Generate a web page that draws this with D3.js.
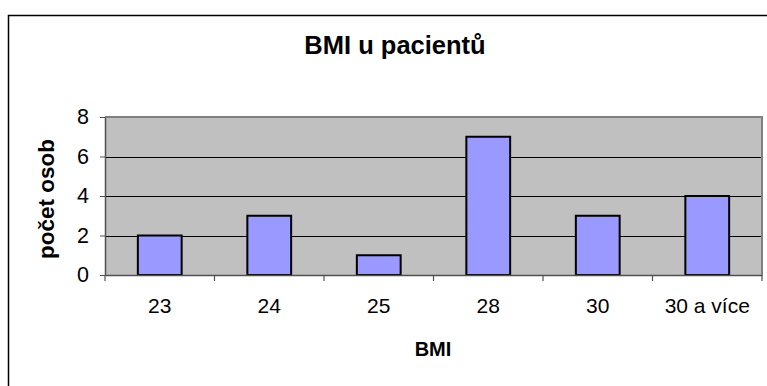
<!DOCTYPE html>
<html>
<head>
<meta charset="utf-8">
<script src="https://cdn.jsdelivr.net/npm/d3@7"></script>
<style>
  html, body { margin: 0; padding: 0; background: #fff; }
  svg { display: block; font-family: Arial, "Liberation Sans", sans-serif; }
</style>
</head>
<body>
<svg id="chart" width="767" height="386"></svg>
<script>
const categories = ["23", "24", "25", "28", "30", "30 a více"];
const counts = [2, 3, 1, 7, 3, 4];
const yTicks = [0, 2, 4, 6, 8];
const chartTitle = "BMI u pacientů";
const xTitle = "BMI";
const yTitle = "počet osob";

const svg = d3.select("#chart");
const plot = { left: 105, right: 762, top: 117, bottom: 275 };

// outer chart border
svg.append("rect")
  .attr("x", 8.5).attr("y", 15.5)
  .attr("width", 800).attr("height", 400)
  .attr("fill", "#fff").attr("stroke", "#000").attr("stroke-width", 1.5);

const x = d3.scaleBand().domain(categories).range([plot.left, plot.right]).paddingInner(0).paddingOuter(0);
const y = d3.scaleLinear().domain([0, 8]).range([plot.bottom, plot.top]);

// plot background
svg.append("rect")
  .attr("x", plot.left).attr("y", plot.top)
  .attr("width", plot.right - plot.left).attr("height", plot.bottom - plot.top)
  .attr("fill", "#C0C0C0");

// gridlines
svg.append("g").selectAll("line")
  .data(yTicks.filter(t => t > 0 && t < 8))
  .join("line")
  .attr("x1", plot.left).attr("x2", plot.right)
  .attr("y1", d => Math.round(y(d)) + 0.5).attr("y2", d => Math.round(y(d)) + 0.5)
  .attr("stroke", "#000").attr("stroke-width", 1);

// plot border (top / right) gray
svg.append("path")
  .attr("d", `M${plot.left},${plot.top} H${plot.right} V${plot.bottom}`)
  .attr("fill", "none").attr("stroke", "#808080").attr("stroke-width", 2);

// bars
const barW = x.bandwidth() * 0.4;
svg.append("g").selectAll("rect")
  .data(counts)
  .join("rect")
  .attr("x", (d, i) => x(categories[i]) + (x.bandwidth() - barW) / 2)
  .attr("y", d => y(d))
  .attr("width", barW)
  .attr("height", d => y(0) - y(d))
  .attr("fill", "#9999FF")
  .attr("stroke", "#000").attr("stroke-width", 2);

// y axis
const yAxis = d3.axisLeft(y).tickValues(yTicks).tickSize(5).tickPadding(11).tickSizeOuter(0);
const gy = svg.append("g").attr("transform", `translate(${plot.left},0)`).call(yAxis);
gy.select(".domain").attr("stroke", "#505050").attr("stroke-width", 1.5);
gy.selectAll(".tick line").attr("stroke", "#505050");
gy.selectAll(".tick text").attr("font-size", 21.5).attr("fill", "#000")
  .attr("font-family", "Arial, 'Liberation Sans', sans-serif");

// x axis
const xAxis = d3.axisBottom(x).tickSize(0).tickPadding(23).tickSizeOuter(0);
const gx = svg.append("g").attr("transform", `translate(0,${plot.bottom})`).call(xAxis);
gx.select(".domain").attr("stroke", "#505050").attr("stroke-width", 1.5);
gx.selectAll(".tick text").attr("font-size", 21).attr("fill", "#000")
  .attr("font-family", "Arial, 'Liberation Sans', sans-serif");
// category boundary ticks
const bounds = categories.map(c => x(c)).concat([plot.right]);
svg.append("g").selectAll("line")
  .data(bounds)
  .join("line")
  .attr("x1", d => d).attr("x2", d => d)
  .attr("y1", plot.bottom).attr("y2", plot.bottom + 6)
  .attr("stroke", "#505050").attr("stroke-width", 1.2);

// titles
svg.append("text")
  .attr("x", 395).attr("y", 54)
  .attr("text-anchor", "middle")
  .attr("font-size", 25.5).attr("font-weight", "bold")
  .text(chartTitle);

svg.append("text")
  .attr("x", 433).attr("y", 356)
  .attr("text-anchor", "middle")
  .attr("font-size", 20).attr("font-weight", "bold")
  .text(xTitle);

svg.append("text")
  .attr("transform", "translate(54,199) rotate(-90)")
  .attr("text-anchor", "middle")
  .attr("font-size", 22.5).attr("font-weight", "bold")
  .text(yTitle);
</script>
</body>
</html>
